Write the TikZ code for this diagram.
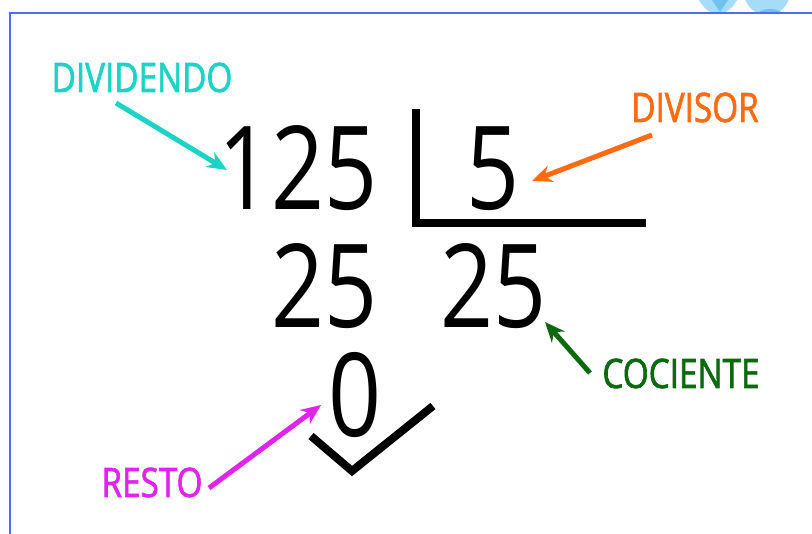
\documentclass[tikz,border=0pt]{standalone}
\usepackage{fontspec}
\setmainfont{Open Sans}[FakeStretch=0.8]
\newfontfamily\labfont{Open Sans}[FakeStretch=0.82, FakeBold=1.6]
\usetikzlibrary{arrows.meta}
\definecolor{cteal}{HTML}{1DD3C6}
\definecolor{corange}{HTML}{FF6B12}
\definecolor{cgreen}{HTML}{0B6A0E}
\definecolor{cmag}{HTML}{E024EE}
\definecolor{cborder}{HTML}{4F6DF2}
\definecolor{cdeco}{HTML}{A6DCF7}
\definecolor{cdecod}{HTML}{6CC3F0}
\tikzset{
  num/.style={font=\fontsize{116}{116}\selectfont, inner sep=0pt, anchor=base},
  lab/.style={font=\labfont\fontsize{40.6}{40}\selectfont, inner sep=0pt, anchor=base},
  bar/.style={line width=8pt, line join=miter, line cap=butt},
  arr/.style={line width=5pt, -{Stealth[length=20pt,width=17pt]}},
}
\begin{document}
\begin{tikzpicture}[x=1pt,y=-1pt]
\useasboundingbox (0,0) rectangle (812,534);
\fill[white] (0,0) rectangle (812,534);
% top-right decoration (partly visible)
\begin{scope}
\clip (680,0) rectangle (812,13);
\fill[cdeco] (718,-30) ellipse (26 and 44);
\fill[cdecod] (712,0) -- (720,12) -- (728,0) -- cycle;
\fill[cdeco] (767,-8) circle (23);
\fill[cdecod] (770,14) ellipse (12 and 5);
\end{scope}
% border
\draw[cborder, line width=2pt] (10,534) -- (10,13) -- (812,13);
% numbers
\node[num] (dvd) at (298,210) {125};
\node[num] (dvs) at (493.5,210) {5};
\node[num] (rst) at (324.5,328) {25};
\node[num] (quo) at (493.5,328) {25};
\node[num] (rem) at (355.5,437) {0};
% division bracket
\draw[bar] (416,109) -- (416,223) -- (646,223);
% remainder tick
\draw[bar] (311,436) -- (352,471) -- (433,406);
% labels
\node[lab, text=cteal] (ldvd) at (142,92) {DIVIDENDO};
\node[lab, text=corange] (ldvs) at (695,122) {DIVISOR};
\node[lab, text=cgreen] (lquo) at (681,388) {COCIENTE};
\node[lab, text=cmag] (lrem) at (152,497) {RESTO};
% arrow ends
\coordinate (a1s) at (116,103); \coordinate (a1e) at (227,170);
\coordinate (a2s) at (652,135); \coordinate (a2e) at (532,181);
\coordinate (a3s) at (590,373); \coordinate (a3e) at (545,322);
\coordinate (a4s) at (209,488); \coordinate (a4e) at (321,405);
\draw[arr, cteal] (a1s) -- (a1e);
\draw[arr, corange] (a2s) -- (a2e);
\draw[arr, cgreen] (a3s) -- (a3e);
\draw[arr, cmag] (a4s) -- (a4e);
\end{tikzpicture}
\end{document}
